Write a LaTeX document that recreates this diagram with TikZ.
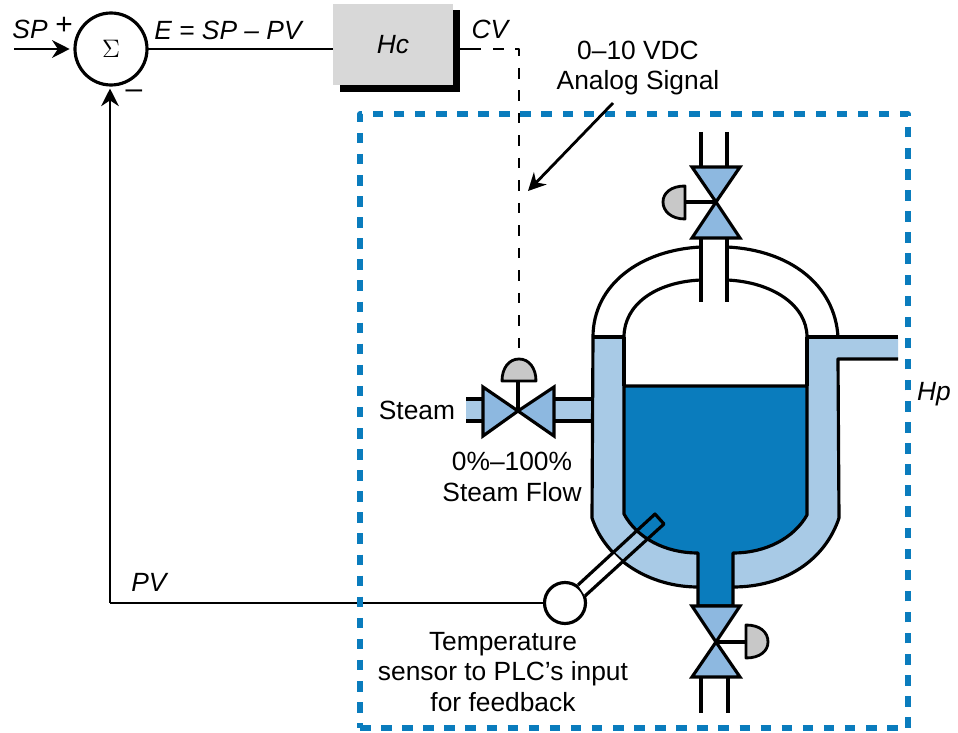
\documentclass[tikz,border=0pt]{standalone}
\usepackage{fontspec}
\setmainfont{Liberation Sans}
\usetikzlibrary{arrows.meta}
\definecolor{liquidblue}{HTML}{0A7CBD}
\definecolor{jacketblue}{HTML}{A8CAE6}
\definecolor{valveblue}{HTML}{8DB8E0}
\definecolor{actgray}{HTML}{C8C8C8}
\definecolor{boxgray}{HTML}{D8D8D8}
\tikzset{
	pipeline/.style={line width=1.8pt},
	sigline/.style={line width=1.6pt,-{Stealth[length=10pt,width=10pt]}},
	ctrlline/.style={line width=1.6pt,dash pattern=on 6pt off 6.8pt},
	valvepart/.style={line width=1.8pt,fill=valveblue,line join=miter},
	actpart/.style={line width=1.6pt,fill=actgray},
	lbl/.style={font=\fontsize{15}{17.5}\selectfont,align=center,inner sep=0pt},
}
\begin{document}
\begin{tikzpicture}[x=0.02cm,y=-0.02cm, line cap=butt, line join=round]
	\useasboundingbox (0,0) rectangle (958,733);
	% jacket and outlet
	\fill[jacketblue] (593,337) -- (592,518) .. controls (606,560) and (650,587) .. (698,587)
	-- (733,587) .. controls (785,587) and (825,560) .. (839,518) -- (838,359) -- (898,359)
	-- (898,337) -- (807,337) -- (807,386) -- (624,386) -- (624,337) -- cycle;
	\fill[jacketblue] (466,399) rectangle (483,421);
	\fill[jacketblue] (554,399) rectangle (593,421);
	\draw[pipeline] (593,337) -- (592,518) .. controls (606,560) and (650,587) .. (698,587);
	\draw[pipeline] (733,587) .. controls (785,587) and (825,560) .. (839,518) -- (838,359) -- (898,359);
	\draw[pipeline] (593,337) -- (624,337);
	\draw[pipeline] (807,337) -- (898,337);
	\draw[pipeline] (466,399) -- (483,399);
	\draw[pipeline] (466,421) -- (483,421);
	\draw[pipeline] (554,399) -- (593,399);
	\draw[pipeline] (554,421) -- (593,421);
	% vessel
	\draw[pipeline,fill=liquidblue] (624,386) -- (624,514) .. controls (637,538) and (665,553) .. (698,553)
	-- (698,606) -- (733,606) -- (733,553) .. controls (766,553) and (794,538) .. (807,515)
	-- (807,386) -- cycle;
	\draw[pipeline] (624,337) -- (624,386);
	\draw[pipeline] (807,337) -- (807,386);
	% dome
	\draw[pipeline] (593,337) .. controls (593,285) and (640,250) .. (701,247);
	\draw[pipeline] (727,247) .. controls (790,250) and (835,285) .. (838,337);
	\draw[pipeline] (624,337) .. controls (624,305) and (655,282) .. (701,280);
	\draw[pipeline] (727,280) .. controls (772,282) and (807,305) .. (807,337);
	\draw[pipeline] (701,238) -- (701,302);
	\draw[pipeline] (727,238) -- (727,302);
	\draw[pipeline] (701,132) -- (701,167);
	\draw[pipeline] (727,132) -- (727,167);
	\draw[pipeline] (701,677) -- (701,713);
	\draw[pipeline] (728,677) -- (728,713);
	% top valve
	\draw[valvepart] (692,167) -- (740,167) -- (716,202) -- cycle;
	\draw[valvepart] (692,238) -- (740,238) -- (716,202) -- cycle;
	\draw[pipeline] (716,202) -- (685,202);
	\draw[actpart] (685,186) .. controls (671,186) and (663,193) .. (663,202) .. controls (663,211) and (671,219) .. (685,219) -- cycle;
	% bottom valve
	\draw[valvepart] (692,606) -- (740,606) -- (716,642) -- cycle;
	\draw[valvepart] (692,677) -- (740,677) -- (716,642) -- cycle;
	\draw[pipeline] (716,642) -- (746,642);
	\draw[actpart] (746,625) .. controls (760,625) and (768,632) .. (768,642) .. controls (768,651) and (760,658) .. (746,658) -- cycle;
	% steam valve
	\draw[valvepart] (483,387) -- (483,436) -- (518,411) -- cycle;
	\draw[valvepart] (554,387) -- (554,436) -- (518,411) -- cycle;
	\draw[pipeline] (518,411) -- (518,381);
	\draw[actpart] (502,381) .. controls (502,368) and (509,359) .. (519,359) .. controls (529,359) and (536,368) .. (536,381) -- cycle;
	% temperature probe
	\node[circle,draw,line width=1.8pt,fill=white,minimum size=41*0.02cm,inner sep=0pt,outer sep=0pt] (sensor) at (565,603) {};
	\fill[white] (578,585) -- (613,553) -- (622,562) -- (585,596) -- cycle;
	\draw[pipeline] (578,585) -- (655,514) -- (664,524) -- (585,596);
	% controller loop
	\node[circle,draw,line width=1.8pt,minimum size=72*0.02cm,inner sep=0pt,outer sep=0pt,font=\Large] (sum) at (111,49) {\(\Sigma\)};
	\fill (340,10) rectangle (460,92);
	\node[fill=boxgray,minimum width=120*0.02cm,minimum height=81*0.02cm,inner sep=0pt,outer sep=0pt,anchor=north west] (hc) at (333,4) {};
	\node[lbl] (hclbl) at (hc.center) {\textit{Hc}};
	\coordinate (spin) at (14,49);
	\coordinate (pvcorner) at (110,603);
	\coordinate (cvout) at (460,49);
	\coordinate (cvdash) at (481,49);
	\coordinate (cvgap) at (493,49);
	\coordinate (cvcorner) at (519,49);
	\coordinate (valvetop) at (519,350);
	\draw[sigline] (spin) -- ([xshift=-3pt]sum.west);
	\draw[line width=1.6pt] (sum.east) -- (sum.east -| hc.west);
	\draw[line width=1.6pt] (sensor.west) -- (pvcorner);
	\draw[sigline] (pvcorner) -- ([yshift=-2pt]sum.south -| pvcorner);
	\draw[line width=1.6pt] (cvout) -- (cvdash);
	\draw[ctrlline] (cvgap) -- (cvcorner) -- (valvetop);
	% process boundary
	\node[draw=liquidblue,line width=3pt,dash pattern=on 6pt off 6pt,minimum width=548*0.02cm,minimum height=614*0.02cm,inner sep=0pt,outer sep=0pt,anchor=north west] (hpbox) at (360,114) {};
	% labels
	\node[lbl] (spl) at (30,29) {\textit{SP}};
	\node[lbl,font=\fontsize{17}{17.5}\selectfont] (plus) at (64,26) {+};
	\node[lbl,font=\fontsize{17}{17.5}\selectfont] (minus) at (134,94) {–};
	\node[lbl] (errl) at (229,30) {\textit{E = SP – PV}};
	\node[lbl] (cvl) at (491,29) {\textit{CV}};
	\node[lbl] (sigl) at (638,68) {0–10 VDC\\Analog Signal};
	\coordinate (sigarrow) at (613,103);
	\coordinate (dashpoint) at (528,191);
	\draw[sigline] (sigarrow) -- (dashpoint);
	\node[lbl] (steaml) at (417,410) {Steam};
	\node[lbl] (flowl) at (512,477) {0\%–100\%\\Steam Flow};
	\node[lbl] (hpl) at (934,394) {\textit{Hp}};
	\node[lbl] (pvl) at (150,582) {\textit{PV}};
	\node[lbl] (templ) at (503,672) {Temperature\\sensor to PLC’s input\\for feedback};
\end{tikzpicture}
\end{document}
